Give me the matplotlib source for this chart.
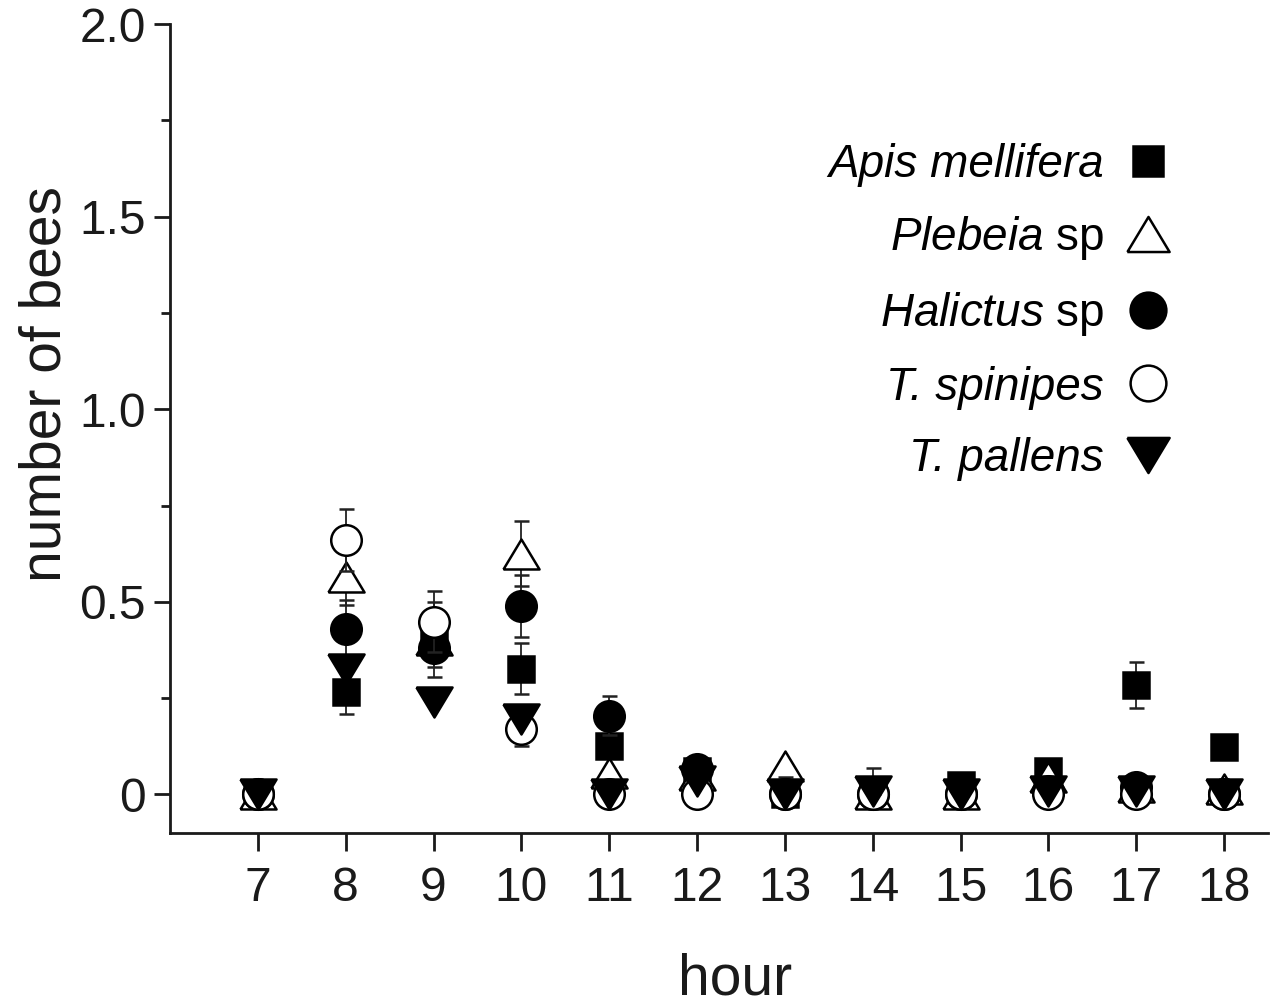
import matplotlib
matplotlib.use("Agg")
import matplotlib.pyplot as plt
from matplotlib.lines import Line2D

plt.rcParams['font.family'] = ['Liberation Sans', 'DejaVu Sans']
plt.rcParams['mathtext.fontset'] = 'custom'
plt.rcParams['mathtext.rm'] = 'Liberation Sans'
plt.rcParams['mathtext.it'] = 'Liberation Sans:italic'

# mean number of bees per hour of the day, with standard errors
hours = [7, 8, 9, 10, 11, 12, 13, 14, 15, 16, 17, 18]

apis = [0, 0.267, 0.415, 0.327, 0.125, 0.06, 0, 0, 0.025, 0.062, 0.285, 0.123]
apis_err = [0, 0.057, 0.085, 0.065, 0, 0, 0, 0, 0, 0, 0.06, 0]

plebeia = [0, 0.565, 0.40, 0.625, 0.057, 0.05, 0.075, 0, 0, 0.045, 0.02, 0.015]
plebeia_err = [0, 0.073, 0, 0.085, 0, 0, 0, 0, 0, 0, 0, 0]

halictus = [0, 0.43, 0.38, 0.49, 0.205, 0.065, 0, 0, 0, 0.01, 0.02, 0]
halictus_err = [0, 0.075, 0.075, 0.08, 0.05, 0, 0.045, 0, 0, 0, 0, 0]

spinipes = [0, 0.66, 0.449, 0.17, 0, 0, 0, 0, 0, 0, 0, 0]
spinipes_err = [0, 0.08, 0.08, 0.043, 0, 0, 0, 0, 0, 0, 0, 0]

pallens = [0, 0.325, 0.24, 0.195, 0, 0.035, 0, 0.01, 0, 0.01, 0.01, 0]
pallens_err = [0, 0, 0, 0, 0, 0, 0, 0.06, 0, 0, 0, 0]

labels = ['Apis mellifera', r'$\mathit{Plebeia}$ sp', r'$\mathit{Halictus}$ sp',
          'T. spinipes', 'T. pallens']

# wide, slightly flattened triangles (closed paths)
tri_up = [(-1, -0.83), (1, -0.83), (0, 0.83), (-1, -0.83)]
tri_down = [(-1, 0.83), (1, 0.83), (0, -0.83), (-1, 0.83)]

series = [
    (apis, apis_err, dict(marker='s', ms=19, mfc='black')),
    (plebeia, plebeia_err, dict(marker=tri_up, ms=26, mfc='white')),
    (halictus, halictus_err, dict(marker='o', ms=22, mfc='black')),
    (spinipes, spinipes_err, dict(marker='o', ms=22, mfc='white')),
    (pallens, pallens_err, dict(marker=tri_down, ms=26, mfc='black')),
]

fig = plt.figure(figsize=(12.8, 10.05), dpi=100)
ax = fig.add_axes([170 / 1280, 1 - 833 / 1005, 1098 / 1280, 809 / 1005])

handles = []
for i, (vals, errs, style) in enumerate(series):
    # counts cannot drop below zero, so the lower bar stops at 0
    lower = [min(e, v) for v, e in zip(vals, errs)]
    ax.errorbar(hours, vals, yerr=[lower, errs], linestyle='none', mec='black',
                mew=1.8, ecolor='#222222', elinewidth=1.3, capsize=5.4,
                capthick=1.3, zorder=3 + i, **style)
    handles.append(Line2D([], [], linestyle='none', mec='black', mew=1.8, **style))

ax.set_xlim(6, 18.5)
ax.set_ylim(-0.1, 2.0)
ax.set_xticks(hours)
ax.set_yticks([0, 0.5, 1.0, 1.5, 2.0])
ax.set_yticklabels(['0', '0.5', '1.0', '1.5', '2.0'])
ax.set_yticks([0.25, 0.75, 1.25, 1.75], minor=True)

for side in ['top', 'right']:
    ax.spines[side].set_visible(False)
for side in ['left', 'bottom']:
    ax.spines[side].set_linewidth(2.0)
    ax.spines[side].set_color('#1a1a1a')

ax.tick_params(axis='both', which='major', labelsize=34.5, width=2.0,
               colors='#1a1a1a')
ax.tick_params(axis='x', which='major', length=13, pad=11)
ax.tick_params(axis='y', which='major', length=11.5, pad=6)
ax.tick_params(axis='y', which='minor', length=6.5, width=2.0, colors='#1a1a1a')

ax.set_xlabel('hour', fontsize=41, color='#1a1a1a')
ax.xaxis.set_label_coords(0.515, -0.148)
ax.set_ylabel('number of bees', fontsize=41, color='#1a1a1a')
ax.yaxis.set_label_coords(-0.0888, 0.555)

leg = ax.legend(handles, labels, markerfirst=False, frameon=False, fontsize=33,
                markerscale=1.17, handlelength=1.0, handletextpad=0.46,
                labelspacing=0.6, borderpad=0, borderaxespad=0,
                loc='center right', bbox_to_anchor=(1171 / 1280, 1 - 312 / 1005),
                bbox_transform=fig.transFigure)
for txt in leg.get_texts():
    if '$' not in txt.get_text():
        txt.set_fontstyle('italic')

fig.savefig('out.png', dpi=100, facecolor='white')
